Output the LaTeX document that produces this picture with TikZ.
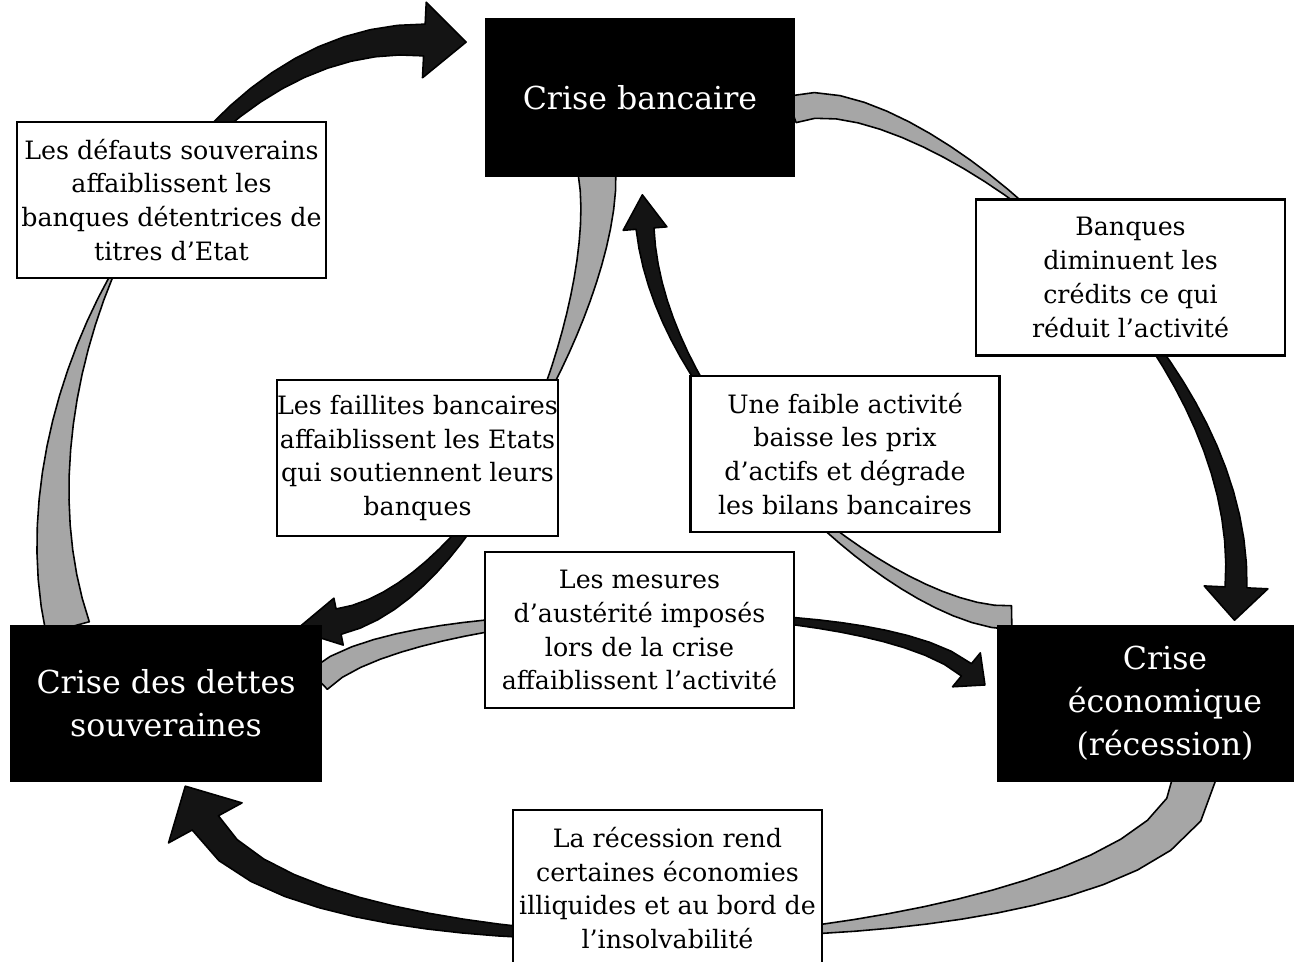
\documentclass[tikz,border=0pt]{standalone}
\usepackage{fontspec}
\setmainfont{DejaVu Serif}
\usetikzlibrary{calc,decorations.markings}
\pgfdeclarelayer{bg}
\pgfsetlayers{bg,main}

\tikzset{
  bigbox/.style={fill=black,text=white,align=center,inner sep=0pt,
    font=\fontsize{18}{24.4}\selectfont},
  notebox/.style={draw=black,line width=1.3pt,fill=white,align=center,inner sep=0pt,
    minimum width=6.18cm,minimum height=3.12cm,font=\fontsize{14.4}{19.3}\selectfont},
  ribgray/.style={fill=black!35,draw=black,line width=0.9pt,line join=round},
  ribblack/.style={fill=black!92,draw=black,line width=0.9pt,line join=round},
  % name, tail width, shaft width, twist index, head length, head half width (px)
  ribbon/.style n args={6}{decoration={markings,
    mark=between positions 0 and 1 step 0.0333 with {
      \pgfmathsetmacro\rk{(#4-1)/30}
      \pgfmathsetmacro\rt{\pgfkeysvalueof{/pgf/decoration/mark info/distance from start}/\pgfdecoratedpathlength}
      \pgfmathsetmacro\rw{0.2835*((\rt<\rk) ? (#2*(\rk-\rt)/\rk) : (#3*(\rt-\rk)/(1-\rk)))}
      \pgfmathsetmacro\rh{0.5669*#6}
      \pgfmathsetmacro\rl{0.5669*#5}
      \edef\rn{\pgfkeysvalueof{/pgf/decoration/mark info/sequence number}}
      \coordinate (#1a\rn) at (0pt,\rw pt);
      \coordinate (#1b\rn) at (0pt,-\rw pt);
      % the last mark placed leaves the head
      \coordinate (#1ea) at (0pt,\rw pt);
      \coordinate (#1eb) at (0pt,-\rw pt);
      \coordinate (#1ha) at (0pt,\rh pt);
      \coordinate (#1hb) at (0pt,-\rh pt);
      \coordinate (#1tip) at (\rl pt,0pt);}},
    postaction=decorate}
}

\newcommand\ribfill[2]{%
  \filldraw[ribgray] (#1a1) \foreach \i in {2,...,#2}{-- (#1a\i)}
    \foreach \i in {#2,...,1}{-- (#1b\i)} -- cycle;
  \filldraw[ribblack] (#1a#2) \foreach \i in {#2,...,30}{-- (#1a\i)}
    -- (#1ea) -- (#1ha) -- (#1tip) -- (#1hb) -- (#1eb)
    \foreach \i in {30,...,#2}{-- (#1b\i)} -- cycle;}

\begin{document}
\begin{tikzpicture}[x=0.02cm,y=-0.02cm]
\useasboundingbox (0,0) rectangle (1294,961);

% the three crises
\node[bigbox,minimum width=6.2cm,minimum height=3.18cm] (bank) at (640,97.5) {Crise bancaire};
\node[bigbox,minimum width=6.24cm,minimum height=3.14cm] (debt) at (166,703.5) {Crise des dettes\\souveraines};
\node[bigbox,minimum width=6.72cm,minimum height=3.14cm] (eco) at (1165,703.5) {Crise\\économique\\(récession)};

% mechanisms
\node[notebox] (n1) at (171.5,200) {Les défauts souverains\\affaiblissent les\\banques détentrices de\\titres d’Etat};
\node[notebox] (n2) at (1130.5,277.5) {Banques\\diminuent les\\crédits ce qui\\réduit l’activité};
\node[notebox,minimum width=5.58cm] (n3) at (417.5,458) {Les faillites bancaires\\affaiblissent les Etats\\qui soutiennent leurs\\banques};
\node[notebox] (n4) at (845,454) {Une faible activité\\baisse les prix\\d’actifs et dégrade\\les bilans bancaires};
\node[notebox] (n5) at (639.5,630) {Les mesures\\d’austérité imposés\\lors de la crise\\affaiblissent l’activité};
\node[notebox] (n6) at (667.5,888) {La récession rend\\certaines économies\\illiquides et au bord de\\l’insolvabilité};

% twisted arrows behind the boxes
\begin{pgfonlayer}{bg}
\path[ribbon={ra}{45}{32}{16}{42}{38}] ($(debt.north west)+(58,3)$)
  .. controls +(-68,-248) and +(-235,-12) .. ($(bank.west)+(-60,-57.5)$);
\ribfill{ra}{16}
\path[ribbon={rb}{28}{22}{14}{33}{32}] ($(bank.east)+(-4,12)$)
  .. controls +(109,-40) and +(12,-258) .. ($(eco.north)+(71,-37)$);
\ribfill{rb}{14}
\path[ribbon={rc}{44}{30}{16}{42}{42}] ($(eco.south)+(30,-6)$)
  .. controls +(-5,184) and +(95,178) .. ($(debt.south)+(39,40)$);
\ribfill{rc}{16}
\path[ribbon={rd}{26}{16}{16}{24}{22}] ($(debt.east)+(-4,-23.5)$)
  .. controls +(82,-80) and +(-97,-80) .. ($(eco.west)+(-30,-33.5)$);
\ribfill{rd}{16}
\path[ribbon={re}{38}{26}{16}{44}{24}] ($(bank.south)+(-43,-5)$)
  .. controls +(13,128) and +(142,-28) .. ($(debt.north east)+(16,-3)$);
\ribfill{re}{16}
\path[ribbon={rf}{24}{18}{17}{34}{22}] ($(eco.north west)+(15,-7)$)
  .. controls +(-112,2) and +(15,192) .. ($(bank.south)+(5,51)$);
\ribfill{rf}{17}
\end{pgfonlayer}
\end{tikzpicture}
\end{document}
